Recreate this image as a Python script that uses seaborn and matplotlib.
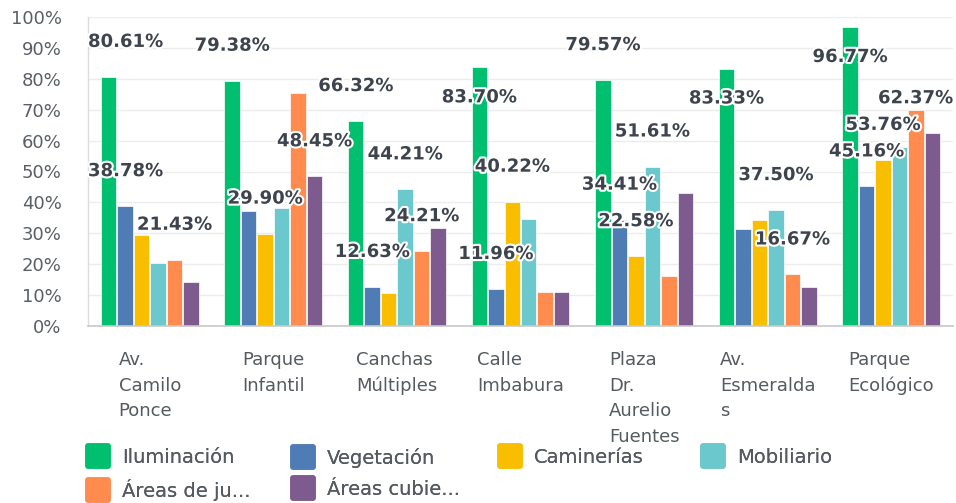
import numpy as np
import pandas as pd
import matplotlib
matplotlib.use("Agg")
import matplotlib.pyplot as plt
import seaborn as sns
from matplotlib.lines import Line2D
from matplotlib.markers import MarkerStyle
import matplotlib.patheffects as pe

sns.set_style("white")
plt.rcParams['font.family'] = ['DejaVu Sans']

# ---- data ----
lugares = ["Av. Camilo Ponce", "Parque Infantil", "Canchas Múltiples", "Calle Imbabura",
           "Plaza Dr. Aurelio Fuentes", "Av. Esmeraldas", "Parque Ecológico"]
etiquetas_x = ["Av.\nCamilo\nPonce", "Parque\nInfantil", "Canchas\nMúltiples", "Calle\nImbabura",
               "Plaza\nDr.\nAurelio\nFuentes", "Av.\nEsmeralda\ns", "Parque\nEcológico"]
series = ["Iluminación", "Vegetación", "Caminerías", "Mobiliario", "Áreas de ju...", "Áreas cubie..."]

iluminacion = [80.61, 79.38, 66.32, 83.70, 79.57, 83.33, 96.77]
vegetacion = [38.78, 37.11, 12.63, 11.96, 34.41, 31.25, 45.16]
caminerias = [29.59, 29.90, 10.53, 40.22, 22.58, 34.38, 53.76]
mobiliario = [20.41, 38.14, 44.21, 34.78, 51.61, 37.50, 58.06]
areas_juego = [21.43, 75.26, 24.21, 10.87, 16.13, 16.67, 69.89]
areas_cubiertas = [14.29, 48.45, 31.58, 10.87, 43.01, 12.50, 62.37]

valores = [iluminacion, vegetacion, caminerias, mobiliario, areas_juego, areas_cubiertas]

# labels that are visible in the chart (grupo, serie); the rest are hidden by overlap
etiquetas_visibles = {(0, 0), (0, 1), (0, 4), (1, 0), (1, 2), (1, 5), (2, 0), (2, 1), (2, 3), (2, 4),
                      (3, 0), (3, 1), (3, 2), (4, 0), (4, 1), (4, 2), (4, 3), (5, 0), (5, 3), (5, 4),
                      (6, 0), (6, 1), (6, 2), (6, 5)}
etiquetas_dentro = {(3, 0), (5, 0), (6, 0)}

colores = ["#00BF6F", "#507CB6", "#F9BE00", "#6BC8CD", "#FF8B4F", "#7D5B8F"]

df = pd.DataFrame({
    "lugar": lugares * len(series),
    "serie": np.repeat(series, len(lugares)),
    "pct": np.concatenate(valores),
})

# ---- figure ----
DPI = 100
fig = plt.figure(figsize=(9.56, 5.03), dpi=DPI)
ax = fig.add_axes([88 / 956, 1 - 326 / 503, (953 - 88) / 956, (326 - 17) / 503])

sns.barplot(data=df, x="lugar", y="pct", hue="serie", order=lugares, hue_order=series,
            palette=colores, saturation=1, width=0.8, gap=0.06,
            edgecolor="white", linewidth=0.5, legend=False, ax=ax, zorder=2)

ax.set_ylim(0, 100)
ax.set_xlim(-0.5, 6.5)
ax.set_yticks(np.arange(0, 101, 10))
ax.set_yticklabels([f"{v}%" for v in range(0, 101, 10)], fontsize=13, color="#5a5f66")
ax.set_xticks(range(len(lugares)))
ax.set_xticklabels(etiquetas_x, fontsize=13, color="#555a61", ha="center",
                   multialignment="left", linespacing=1.55)
ax.tick_params(axis="y", length=0, pad=19)
ax.tick_params(axis="x", length=0, pad=18)
ax.set_xlabel("")
ax.set_ylabel("")
ax.grid(axis="y", color="#ececec", linewidth=1, zorder=0)
ax.set_axisbelow(True)
for s in ["top", "right"]:
    ax.spines[s].set_visible(False)
ax.spines["left"].set_color("#dcdcdc")
ax.spines["bottom"].set_color("#c8c8c8")
ax.spines["left"].set_linewidth(1)
ax.spines["bottom"].set_linewidth(1.2)

# ---- value labels ----
textos = []
for j, cont in enumerate(ax.containers):
    for i, barra in enumerate(cont):
        if (i, j) not in etiquetas_visibles:
            continue
        dy = -30 if (i, j) in etiquetas_dentro else 35
        t = ax.annotate(f"{valores[j][i]:.2f}%",
                        (barra.get_x() + barra.get_width() / 2, barra.get_height()),
                        xytext=(0, dy * 72 / DPI), textcoords="offset points",
                        ha="center", va="center", fontsize=13, fontweight="bold",
                        color="#3e444d", zorder=5,
                        path_effects=[pe.withStroke(linewidth=3, foreground="white")])
        textos.append(t)

# keep labels inside the plot area
fig.canvas.draw()
rend = fig.canvas.get_renderer()
axbb = ax.get_window_extent(rend)
for t in textos:
    bb = t.get_window_extent(rend)
    dx = 0
    if bb.x0 < axbb.x0:
        dx = axbb.x0 - bb.x0
    elif bb.x1 > axbb.x1:
        dx = axbb.x1 - bb.x1
    if dx:
        x0, y0 = t.xyann
        t.xyann = (x0 + dx * 72 / DPI, y0)

# ---- legend: one small legend per column so columns sit on a fixed grid ----
columnas = [[0, 4], [1, 5], [2], [3]]
x_columnas = [85, 290, 497, 700]
for idx, xc in zip(columnas, x_columnas):
    manejadores = [Line2D([], [], linestyle="none",
                          marker=MarkerStyle("s", joinstyle="round"), markersize=14,
                          markerfacecolor=colores[k], markeredgecolor=colores[k], markeredgewidth=4)
                   for k in idx]
    leg = fig.legend(manejadores, [series[k] for k in idx], ncol=1, frameon=False,
                     loc="upper left", bbox_to_anchor=(xc / 956, 1 - 448 / 503),
                     fontsize=14, labelcolor="#555a61", handlelength=1.3, handletextpad=0.6,
                     labelspacing=0.62, borderpad=0, borderaxespad=0)
    fig.add_artist(leg)

fig.savefig("out.png", dpi=DPI)
